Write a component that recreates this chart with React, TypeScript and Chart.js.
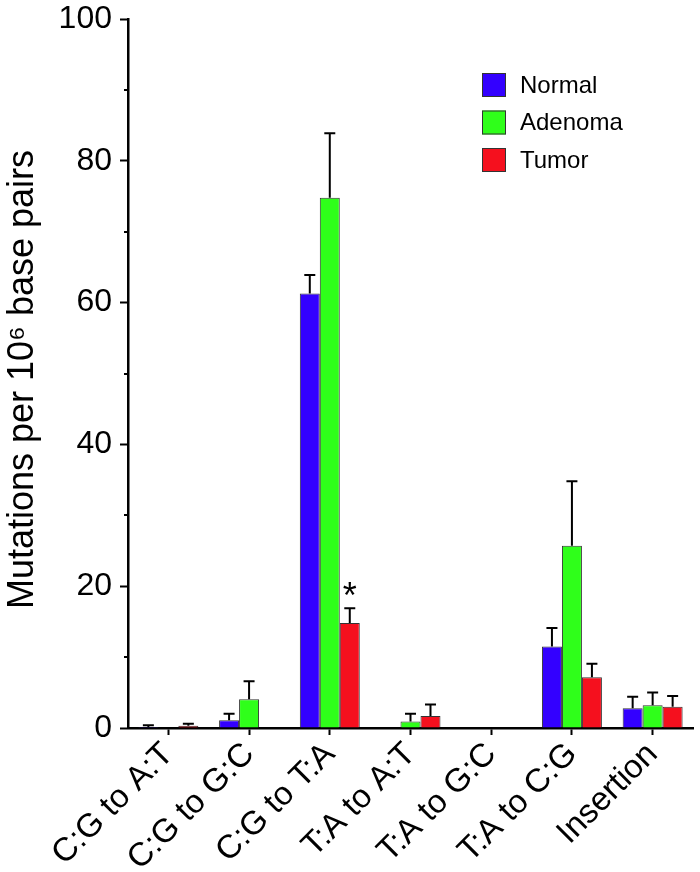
import { useEffect, useRef } from "react";
import { Chart, registerables } from "chart.js";

Chart.register(...registerables);

const categories = [
  "C:G to A:T",
  "C:G to G:C",
  "C:G to T:A",
  "T:A to A:T",
  "T:A to G:C",
  "T:A to C:G",
  "Insertion",
];
const seriesNames = ["Normal", "Adenoma", "Tumor"];
const normal = [0.15, 1.1, 61.3, 0, 0, 11.5, 2.8];
const normalErr = [0.25, 0.9, 2.6, 0, 0, 2.6, 1.6];
const adenoma = [0, 4.05, 74.8, 0.9, 0, 25.7, 3.2];
const adenomaErr = [0, 2.55, 9.1, 1.1, 0, 9.1, 1.8];
const tumor = [0.3, 0, 14.8, 1.7, 0, 7.15, 3.0];
const tumorErr = [0.3, 0, 2.1, 1.6, 0, 1.9, 1.5];
const tumorMarks = ["", "", "*", "", "", "", ""];
const yTicks = [0, 20, 40, 60, 80, 100];
const yMinorTicks = [10, 30, 50, 70, 90];
const yTitle = "Mutations per 10\u2076 base pairs";

const FONT = "'Liberation Sans', Arial, Helvetica, sans-serif";
const colors = ["#3300ff", "#2fff1a", "#f5101e"];

export default function App() {
  const ref = useRef<HTMLCanvasElement>(null);

  useEffect(() => {
    if (!ref.current) return;
    const errs = [normalErr, adenomaErr, tumorErr];
    const marks = [null, null, tumorMarks];

    const errorBars = {
      id: "errorBars",
      afterDatasetsDraw(chart: any) {
        const ctx = chart.ctx;
        const y = chart.scales.y;
        ctx.save();
        ctx.strokeStyle = "#000";
        ctx.fillStyle = "#000";
        ctx.lineWidth = 2;
        chart.data.datasets.forEach((ds: any, di: number) => {
          const meta = chart.getDatasetMeta(di);
          meta.data.forEach((bar: any, i: number) => {
            const v = ds.data[i];
            const e = errs[di][i];
            const x = bar.x;
            const top = y.getPixelForValue(v);
            const capY = y.getPixelForValue(v + e);
            if (e > 0) {
              ctx.beginPath();
              ctx.moveTo(x, top);
              ctx.lineTo(x, capY);
              ctx.moveTo(x - 5.5, capY);
              ctx.lineTo(x + 5.5, capY);
              ctx.stroke();
            }
            const m = marks[di];
            if (m && m[i]) {
              ctx.font = `36px ${FONT}`;
              ctx.textAlign = "center";
              ctx.textBaseline = "middle";
              ctx.fillText(m[i], x, capY - 10);
            }
          });
        });
        ctx.restore();
      },
    };

    const extras = {
      id: "extras",
      afterDraw(chart: any) {
        const ctx = chart.ctx;
        const y = chart.scales.y;
        const area = chart.chartArea;
        ctx.save();
        ctx.strokeStyle = "#000";
        ctx.lineWidth = 2;
        yMinorTicks.forEach((t) => {
          const py = Math.round(y.getPixelForValue(t));
          ctx.beginPath();
          ctx.moveTo(area.left - 4, py);
          ctx.lineTo(area.left, py);
          ctx.stroke();
        });
        // y-axis title
        ctx.translate(23, (area.top + area.bottom) / 2 + 6);
        ctx.rotate(-Math.PI / 2);
        ctx.font = `36px ${FONT}`;
        ctx.fillStyle = "#000";
        ctx.textAlign = "center";
        ctx.textBaseline = "middle";
        ctx.fillText(yTitle, 0, 0);
        ctx.restore();
      },
    };

    const boxLegend = {
      id: "boxLegend",
      afterDraw(chart: any) {
        const ctx = chart.ctx;
        ctx.save();
        const x0 = 482;
        const y0 = 85;
        const gap = 37.5;
        ctx.font = `24px ${FONT}`;
        ctx.textBaseline = "middle";
        ctx.textAlign = "left";
        chart.data.datasets.forEach((ds: any, i: number) => {
          const cy = y0 + i * gap;
          ctx.fillStyle = ds.backgroundColor;
          ctx.fillRect(x0, cy - 12, 24, 24);
          ctx.strokeStyle = "#333";
          ctx.lineWidth = 1;
          ctx.strokeRect(x0 + 0.5, cy - 11.5, 23, 23);
          ctx.fillStyle = "#000";
          ctx.fillText(ds.label, x0 + 38, cy + 1);
        });
        ctx.restore();
      },
    };

    const datasets = [normal, adenoma, tumor].map((d, i) => ({
      label: seriesNames[i],
      data: d,
      backgroundColor: colors[i],
      borderColor: "#333",
      borderWidth: 1,
      borderSkipped: "bottom" as const,
      barPercentage: 1,
      categoryPercentage: 0.743,
    }));

    const chart = new Chart(ref.current, {
      type: "bar",
      data: { labels: categories, datasets },
      options: {
        animation: false,
        responsive: false,
        maintainAspectRatio: false,
        layout: { padding: { top: 19, right: 7, left: 0, bottom: 0 } },
        plugins: {
          legend: { display: false },
          tooltip: { enabled: false },
        },
        scales: {
          x: {
            offset: true,
            grid: {
              offset: false,
              drawOnChartArea: false,
              drawTicks: true,
              tickLength: 7,
              tickWidth: 2,
              tickColor: "#000",
            },
            border: { display: true, color: "#000", width: 2.5 },
            ticks: {
              color: "#000",
              font: { family: FONT, size: 33 },
              minRotation: 45,
              maxRotation: 45,
              autoSkip: false,
              padding: 0,
            },
            afterFit(scale: any) {
              scale.height = 144;
              scale.paddingLeft = 0;
              scale.paddingRight = 0;
            },
          },
          y: {
            min: 0,
            max: 100,
            afterBuildTicks(scale: any) {
              scale.ticks = yTicks.map((v) => ({ value: v }));
            },
            grid: {
              drawOnChartArea: false,
              drawTicks: true,
              tickLength: 8,
              tickWidth: 2,
              tickColor: "#000",
            },
            border: { display: true, color: "#000", width: 2.5 },
            ticks: {
              color: "#000",
              font: { family: FONT, size: 32 },
              padding: 8,
            },
            afterFit(scale: any) {
              scale.width = 128;
              scale.paddingTop = 0;
              scale.paddingBottom = 0;
            },
          },
        },
      },
      plugins: [errorBars, extras, boxLegend],
    });

    return () => chart.destroy();
  }, []);

  return (
    <div
      style={{
        position: "absolute",
        left: 0,
        top: 0,
        width: 700,
        height: 872,
        background: "#fff",
      }}
    >
      <canvas ref={ref} width={700} height={872} style={{ display: "block" }} />
    </div>
  );
}
